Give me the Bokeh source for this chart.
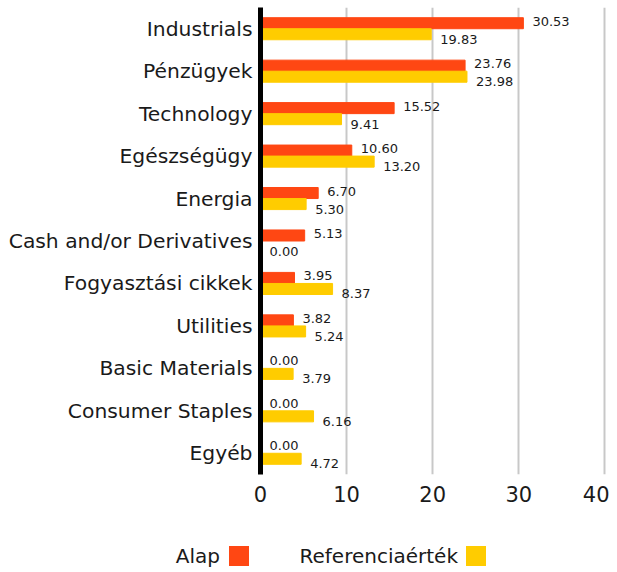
from bokeh.plotting import figure
from bokeh.models import ColumnDataSource, FixedTicker, Range1d, FactorRange, Div
from bokeh.transform import dodge
from bokeh.layouts import column
from bokeh.embed import file_html
from bokeh.resources import INLINE
from bokeh.core.properties import value

categories = ["Industrials", "Pénzügyek", "Technology", "Egészségügy", "Energia",
              "Cash and/or Derivatives", "Fogyasztási cikkek", "Utilities",
              "Basic Materials", "Consumer Staples", "Egyéb"]
alap = [30.53, 23.76, 15.52, 10.60, 6.70, 5.13, 3.95, 3.82, 0.00, 0.00, 0.00]
referencia = [19.83, 23.98, 9.41, 13.20, 5.30, 0.00, 8.37, 5.24, 3.79, 6.16, 4.72]
series_names = ["Alap", "Referenciaérték"]
x_ticks = [0, 10, 20, 30, 40]

ORANGE = "#FF4713"
YELLOW = "#FFCC00"
series_colors = [ORANGE, YELLOW]
FONT = "DejaVu Sans"
TXT = "#1a1a1a"

src = ColumnDataSource(dict(
    cat=categories, alap=alap, ref=referencia,
    alap_lbl=[f"{v:.2f}" for v in alap],
    ref_lbl=[f"{v:.2f}" for v in referencia],
))

p = figure(y_range=FactorRange(*reversed(categories)), x_range=Range1d(0, 40.3),
           width=609, height=520, output_backend="svg", toolbar_location=None,
           min_border_left=260, min_border_right=2, min_border_top=7, min_border_bottom=46)

p.hbar(y=dodge("cat", 0.13, range=p.y_range), left=0, right="alap", height=0.26,
       color=ORANGE, source=src)
p.hbar(y=dodge("cat", -0.13, range=p.y_range), left=0, right="ref", height=0.26,
       color=YELLOW, source=src)

p.text(x="alap", y=dodge("cat", 0.13, range=p.y_range), text="alap_lbl", source=src,
       x_offset=9, y_offset=-2, text_baseline="middle", text_align="left",
       text_font=value(FONT), text_font_size="13px", text_color=TXT)
p.text(x="ref", y=dodge("cat", -0.13, range=p.y_range), text="ref_lbl", source=src,
       x_offset=9, y_offset=5, text_baseline="middle", text_align="left",
       text_font=value(FONT), text_font_size="13px", text_color=TXT)

p.outline_line_color = None
p.ygrid.grid_line_color = None
p.xgrid.grid_line_color = "#c8c8c8"
p.xgrid.grid_line_width = 2
p.xaxis.ticker = FixedTicker(ticks=x_ticks)
p.xaxis.axis_line_color = None
p.xaxis.major_tick_line_color = None
p.xaxis.minor_tick_line_color = None
p.xaxis.major_tick_out = 0
p.xaxis.major_label_standoff = 11
p.xaxis.major_label_text_font = FONT
p.xaxis.major_label_text_font_size = "21px"
p.xaxis.major_label_text_color = TXT

p.yaxis.axis_line_color = "black"
p.yaxis.axis_line_width = 5
p.yaxis.major_tick_line_color = None
p.yaxis.minor_tick_line_color = None
p.yaxis.major_tick_out = 0
p.yaxis.major_label_standoff = 8
p.yaxis.major_label_text_font = FONT
p.yaxis.major_label_text_font_size = "20.3px"
p.yaxis.major_label_text_color = TXT

# legend strip: label text followed by a colour square
text_right = [220, 458]
square_left = [229, 466]
items = []
for name, col, tr, sl in zip(series_names, series_colors, text_right, square_left):
    items.append(
        f'<span style="position:absolute;right:{609 - tr}px;top:26px;height:20px;'
        f'line-height:20px;white-space:nowrap;">{name}</span>'
        f'<span style="position:absolute;left:{sl}px;top:26px;width:20px;height:20px;'
        f'background:{col};"></span>'
    )
legend_html = (
    f'<div style="position:relative;width:609px;height:50px;font-family:\'{FONT}\';'
    f'font-size:20px;color:{TXT};">' + "".join(items) + "</div>"
)
lg = Div(text=legend_html, width=609, height=50, margin=(0, 0, 0, 0))

layout = column(p, lg, spacing=0)
open("out.html", "w").write(file_html(layout, INLINE))
